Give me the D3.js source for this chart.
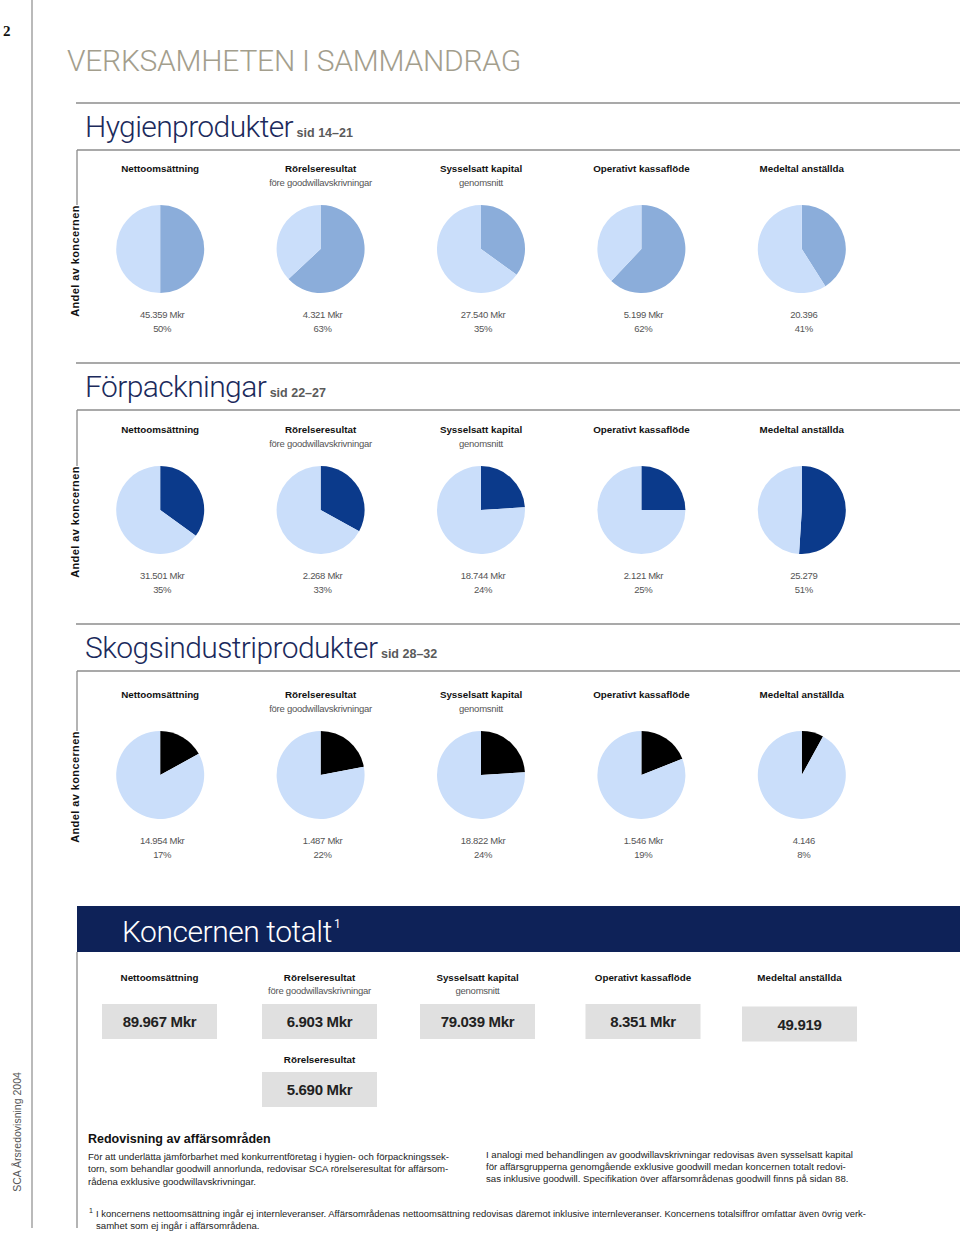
<!DOCTYPE html>
<html><head><meta charset="utf-8">
<script src="https://cdn.jsdelivr.net/npm/d3@7"></script>
<style>body{margin:0;background:#fff}svg{display:block}</style>
</head><body>
<svg id="c" width="960" height="1233"></svg>
<script>
// ---------- data ----------
const metrics = ["Nettoomsättning", "Rörelseresultat", "Sysselsatt kapital", "Operativt kassaflöde", "Medeltal anställda"];
const metricSubs = ["", "före goodwillavskrivningar", "genomsnitt", "", ""];
const segmentNames = ["Hygienprodukter", "Förpackningar", "Skogsindustriprodukter"];
const segmentPages = ["sid 14–21", "sid 22–27", "sid 28–32"];
const hygienValues = ["45.359 Mkr", "4.321 Mkr", "27.540 Mkr", "5.199 Mkr", "20.396"];
const hygienShares = [50, 63, 35, 62, 41];
const forpackValues = ["31.501 Mkr", "2.268 Mkr", "18.744 Mkr", "2.121 Mkr", "25.279"];
const forpackShares = [35, 33, 24, 25, 51];
const skogValues = ["14.954 Mkr", "1.487 Mkr", "18.822 Mkr", "1.546 Mkr", "4.146"];
const skogShares = [17, 22, 24, 19, 8];
const totalValues = ["89.967 Mkr", "6.903 Mkr", "79.039 Mkr", "8.351 Mkr", "49.919"];
const extraLabel = "Rörelseresultat";
const extraValue = "5.690 Mkr";

// ---------- styles ----------
const segColors = ["#8badda", "#0b3a8b", "#000000"];
const lightColor = "#cadefa";
const lineColor = "#8c8c8c";
const sans = "'Liberation Sans', Arial, sans-serif";
const light = "Roboto, 'Liberation Sans', sans-serif";

const svg = d3.select("#c");
const x = d3.scaleBand().domain(metrics).range([80, 882]);
const cx = m => x(m) + x.bandwidth() / 2;

// page frame
svg.append("line").attr("x1", 32).attr("x2", 32).attr("y1", 0).attr("y2", 1228)
  .attr("stroke", lineColor).attr("stroke-width", 1.2);
svg.append("text").attr("x", 3).attr("y", 36).text("2")
  .attr("font-family", "'Liberation Serif', serif").attr("font-weight", "bold").attr("font-size", 15).attr("fill", "#111");
svg.append("text").attr("transform", "translate(21,1132) rotate(-90)").attr("text-anchor", "middle")
  .text("SCA Årsredovisning 2004").attr("font-family", sans).attr("font-size", 10.5).attr("fill", "#555");

svg.append("text").attr("x", 67).attr("y", 71).text("VERKSAMHETEN I SAMMANDRAG")
  .attr("font-family", light).attr("font-weight", 300).attr("font-size", 30).attr("letter-spacing", -0.25).attr("fill", "#a39e8d");

// ---------- segment sections ----------
const segments = [
  {values: hygienValues, shares: hygienShares},
  {values: forpackValues, shares: forpackShares},
  {values: skogValues, shares: skogShares}
];
const tops = [103, 363, 624];
const shifts = [0, 1, 5];
const pie = d3.pie().sort(null).value(d => d);
const arc = d3.arc().innerRadius(0).outerRadius(44);

segments.forEach((seg, i) => {
  const y0 = tops[i], s = shifts[i];
  const g = svg.append("g");
  g.append("line").attr("x1", 76).attr("x2", 960).attr("y1", y0).attr("y2", y0)
    .attr("stroke", lineColor).attr("stroke-width", 1.6);
  const t = g.append("text").attr("x", 85).attr("y", y0 + 34).attr("font-family", light);
  t.append("tspan").text(segmentNames[i]).attr("font-weight", 300).attr("font-size", 30)
    .attr("letter-spacing", -0.6).attr("fill", "#1b2a5c");
  t.append("tspan").text(" " + segmentPages[i]).attr("font-family", sans).attr("font-weight", "bold")
    .attr("font-size", 12.5).attr("letter-spacing", 0).attr("fill", "#5a5a5a");
  g.append("line").attr("x1", 77).attr("x2", 960).attr("y1", y0 + 47).attr("y2", y0 + 47)
    .attr("stroke", lineColor).attr("stroke-width", 1.3);
  g.append("line").attr("x1", 77).attr("x2", 77).attr("y1", y0 + 47).attr("y2", y0 + 102 + s)
    .attr("stroke", lineColor).attr("stroke-width", 1.3);
  g.append("text").attr("transform", `translate(79,${y0 + 158 + s}) rotate(-90)`).attr("text-anchor", "middle")
    .text("Andel av koncernen").attr("font-family", sans).attr("font-weight", "bold")
    .attr("font-size", 11).attr("letter-spacing", 0.4).attr("fill", "#111");

  metrics.forEach((m, j) => {
    const c = cx(m);
    g.append("text").attr("x", c).attr("y", y0 + 69 + s).attr("text-anchor", "middle").text(m)
      .attr("font-family", sans).attr("font-weight", "bold").attr("font-size", 9.8).attr("fill", "#111");
    if (metricSubs[j]) g.append("text").attr("x", c).attr("y", y0 + 83 + s).attr("text-anchor", "middle")
      .text(metricSubs[j]).attr("font-family", sans).attr("font-size", 9.5).attr("letter-spacing", -0.25).attr("fill", "#555");
    const pg = g.append("g").attr("transform", `translate(${c},${y0 + 146 + s})`);
    pg.selectAll("path").data(pie([seg.shares[j], 100 - seg.shares[j]])).join("path")
      .attr("d", arc).attr("fill", (d, k) => k === 0 ? segColors[i] : lightColor);
    g.append("text").attr("x", c + 2).attr("y", y0 + 215 + s).attr("text-anchor", "middle").text(seg.values[j])
      .attr("font-family", sans).attr("font-size", 9.5).attr("letter-spacing", -0.3).attr("fill", "#555");
    g.append("text").attr("x", c + 2).attr("y", y0 + 229 + s).attr("text-anchor", "middle").text(seg.shares[j] + "%")
      .attr("font-family", sans).attr("font-size", 9.5).attr("letter-spacing", -0.3).attr("fill", "#555");
  });
});

// ---------- Koncernen totalt ----------
const tg = svg.append("g");
tg.append("rect").attr("x", 77).attr("y", 906).attr("width", 883).attr("height", 46).attr("fill", "#0e2258");
const kt = tg.append("text").attr("x", 122).attr("y", 942).attr("fill", "#fff").attr("font-family", light);
kt.append("tspan").text("Koncernen totalt").attr("font-weight", 300).attr("font-size", 30).attr("letter-spacing", -0.45);
kt.append("tspan").text("1").attr("font-size", 12).attr("dy", -14).attr("dx", 2);
tg.append("line").attr("x1", 77).attr("x2", 77).attr("y1", 952).attr("y2", 1228)
  .attr("stroke", lineColor).attr("stroke-width", 1.3);

const tx = d3.scalePoint().domain(metrics).range([159.5, 799.5]);
const boxW = 115, boxH = 35;
metrics.forEach((m, j) => {
  const c = tx(m) + (j === 2 ? -2 : j === 3 ? 3.5 : 0);
  tg.append("text").attr("x", c).attr("y", 981).attr("text-anchor", "middle").text(m)
    .attr("font-family", sans).attr("font-weight", "bold").attr("font-size", 9.8).attr("fill", "#111");
  if (metricSubs[j]) tg.append("text").attr("x", c).attr("y", 994).attr("text-anchor", "middle")
    .text(metricSubs[j]).attr("font-family", sans).attr("font-size", 9.5).attr("letter-spacing", -0.25).attr("fill", "#555");
  const by = j === 4 ? 1006.5 : 1004;
  tg.append("rect").attr("x", c - boxW / 2).attr("y", by).attr("width", boxW).attr("height", boxH).attr("fill", "#e0e0e0");
  tg.append("text").attr("x", c).attr("y", by + 23).attr("text-anchor", "middle").text(totalValues[j])
    .attr("font-family", sans).attr("font-weight", "bold").attr("font-size", 15).attr("letter-spacing", -0.3).attr("fill", "#222");
});
{
  const c = tx(metrics[1]);
  tg.append("text").attr("x", c).attr("y", 1063).attr("text-anchor", "middle").text(extraLabel)
    .attr("font-family", sans).attr("font-weight", "bold").attr("font-size", 9.8).attr("fill", "#111");
  tg.append("rect").attr("x", c - boxW / 2).attr("y", 1072).attr("width", boxW).attr("height", boxH).attr("fill", "#e0e0e0");
  tg.append("text").attr("x", c).attr("y", 1095).attr("text-anchor", "middle").text(extraValue)
    .attr("font-family", sans).attr("font-weight", "bold").attr("font-size", 15).attr("letter-spacing", -0.3).attr("fill", "#222");
}

// ---------- notes ----------
const ng = svg.append("g").attr("font-family", sans).attr("fill", "#222");
ng.append("text").attr("x", 88).attr("y", 1143).text("Redovisning av affärsområden")
  .attr("font-weight", "bold").attr("font-size", 12.5).attr("fill", "#111");
const leftLines = [
  "För att underlätta jämförbarhet med konkurrentföretag i hygien- och förpackningssek-",
  "torn, som behandlar goodwill annorlunda, redovisar SCA rörelseresultat för affärsom-",
  "rådena exklusive goodwillavskrivningar."];
const rightLines = [
  "I analogi med behandlingen av goodwillavskrivningar redovisas även sysselsatt kapital",
  "för affärsgrupperna genomgående exklusive goodwill medan koncernen totalt redovi-",
  "sas inklusive goodwill. Specifikation över affärsområdenas goodwill finns på sidan 88."];
function fitLine(sel, w) {
  sel.each(function () {
    const L = this.getComputedTextLength();
    if (L > w) d3.select(this).attr("textLength", w).attr("lengthAdjust", "spacingAndGlyphs");
  });
}
leftLines.forEach((l, i) => {
  const t = ng.append("text").attr("x", 88).attr("y", 1160 + i * 12.4).text(l).attr("font-size", 9.6);
  fitLine(t, i < 2 ? 374 : 200);
});
rightLines.forEach((l, i) => {
  const t = ng.append("text").attr("x", 486).attr("y", 1158 + i * 12.2).text(l).attr("font-size", 9.6);
  fitLine(t, [377, 372, 377][i]);
});
ng.append("text").attr("x", 89).attr("y", 1213).text("1").attr("font-size", 7);
const f1 = ng.append("text").attr("x", 96).attr("y", 1217)
  .text("I koncernens nettoomsättning ingår ej internleveranser. Affärsområdenas nettoomsättning redovisas däremot inklusive internleveranser. Koncernens totalsiffror omfattar även övrig verk-")
  .attr("font-size", 9.6);
fitLine(f1, 770);
ng.append("text").attr("x", 96).attr("y", 1229).text("samhet som ej ingår i affärsområdena.").attr("font-size", 9.6);
</script>
</body></html>
